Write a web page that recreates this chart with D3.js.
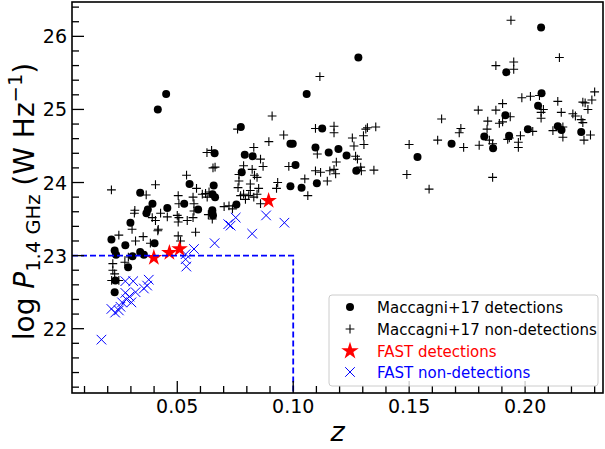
<!DOCTYPE html>
<html>
<head>
<meta charset="utf-8">
<script src="https://cdn.jsdelivr.net/npm/d3@7"></script>
<style>
  body { margin: 0; background: #fff; }
  svg { font-family: "DejaVu Sans", sans-serif; }
</style>
</head>
<body>
<div id="chart"></div>
<script>
// Maccagni+17 detections [z, log P]
var maccDet = [
    [0.0452, 25.21], [0.0416, 25.00], [0.0774, 24.76], [0.0661, 24.40], [0.0553, 23.98],
    [0.0657, 23.96], [0.0340, 23.86], [0.0663, 23.80], [0.0530, 23.71], [0.0393, 23.71],
    [0.0457, 23.65], [0.0373, 23.63], [0.0590, 23.63], [0.0651, 23.62], [0.0755, 23.70],
    [0.0778, 24.14], [0.0367, 23.58], [0.0651, 23.59], [0.0298, 23.45], [0.0216, 23.22],
    [0.0276, 23.14], [0.0230, 23.07], [0.0236, 23.01], [0.0340, 23.05], [0.0307, 22.99],
    [0.0402, 23.17], [0.0356, 23.01], [0.0288, 22.84], [0.0233, 22.66], [0.0230, 22.50],
    [0.0988, 24.53], [0.0998, 24.53], [0.1125, 24.74], [0.0791, 24.38], [0.0825, 24.36],
    [0.1096, 24.48], [0.1153, 24.41], [0.1195, 24.46], [0.1230, 24.37], [0.1010, 24.24],
    [0.1272, 24.16], [0.0988, 23.95], [0.1036, 23.93], [0.1102, 23.99], [0.1281, 25.71],
    [0.1058, 25.21], [0.2069, 26.12], [0.1919, 25.51], [0.2071, 25.22], [0.2056, 25.05],
    [0.1915, 24.92], [0.2012, 24.73], [0.1824, 24.63], [0.1931, 24.64], [0.1683, 24.53],
    [0.1862, 24.47], [0.2141, 24.77], [0.2157, 24.72], [0.2242, 24.69], [0.1536, 24.35],
    [0.0654, 23.55], [0.0652, 23.84]
];

// Maccagni+17 non-detections [z, log P]
var maccNonDet = [
    [0.0216, 23.90], [0.0406, 23.97], [0.0366, 23.83], [0.0540, 24.10], [0.0583, 23.92],
    [0.0504, 23.82], [0.0507, 23.71], [0.0568, 23.80], [0.0572, 23.71], [0.0608, 23.84],
    [0.0622, 23.85], [0.0629, 23.80], [0.0637, 23.87], [0.0628, 24.41], [0.0648, 24.44],
    [0.0654, 24.20], [0.0663, 24.21], [0.0760, 24.73], [0.0762, 23.93], [0.0766, 24.11],
    [0.0766, 24.02], [0.0773, 23.82], [0.0702, 23.67], [0.0723, 23.68], [0.0738, 23.64],
    [0.0317, 23.62], [0.0315, 23.58], [0.0428, 23.58], [0.0457, 23.53], [0.0392, 23.52],
    [0.0406, 23.48], [0.0418, 23.36], [0.0500, 23.55], [0.0507, 23.52], [0.0504, 23.46],
    [0.0543, 23.48], [0.0572, 23.61], [0.0568, 23.52], [0.0579, 23.32], [0.0634, 23.56],
    [0.0651, 23.50], [0.0248, 23.28], [0.0305, 23.36], [0.0353, 23.26], [0.0320, 23.20],
    [0.0384, 23.17], [0.0274, 22.91], [0.0222, 22.89], [0.0222, 22.80], [0.0230, 22.75],
    [0.0248, 22.66], [0.0217, 22.66], [0.0289, 22.98], [0.0504, 23.27], [0.0514, 23.20],
    [0.0416, 23.34], [0.0909, 24.91], [0.0959, 24.65], [0.0895, 24.56], [0.1096, 24.74],
    [0.1176, 24.77], [0.1176, 24.68], [0.1313, 24.73], [0.1320, 24.75], [0.1356, 24.76],
    [0.1255, 24.61], [0.1303, 24.64], [0.1305, 24.52], [0.1262, 24.50], [0.0830, 24.48],
    [0.0859, 24.32], [0.0870, 24.22], [0.1104, 24.39], [0.1186, 24.28], [0.1269, 24.36],
    [0.1277, 24.32], [0.0786, 24.23], [0.0823, 24.18], [0.0833, 24.10], [0.0844, 24.07],
    [0.0981, 24.22], [0.1096, 24.16], [0.1118, 24.14], [0.1158, 24.16], [0.1176, 24.18],
    [0.1183, 24.12], [0.1291, 24.21], [0.1294, 24.16], [0.1348, 24.17], [0.1147, 24.02],
    [0.1050, 24.05], [0.1063, 23.82], [0.0933, 24.00], [0.0928, 23.92], [0.0815, 23.98],
    [0.0851, 23.92], [0.0815, 23.89], [0.0786, 23.84], [0.0808, 23.82], [0.0844, 23.84],
    [0.0794, 23.77], [0.0830, 23.80], [0.0859, 23.71], [0.1115, 25.45], [0.1939, 26.22],
    [0.2148, 25.71], [0.1874, 25.60], [0.1951, 25.65], [0.1951, 25.55], [0.2300, 25.24],
    [0.2288, 25.13], [0.2249, 25.10], [0.2259, 25.09], [0.2271, 25.00], [0.1986, 25.16],
    [0.2023, 25.18], [0.2062, 25.19], [0.2079, 25.00], [0.2069, 24.96], [0.2069, 24.88],
    [0.2141, 25.11], [0.2156, 24.96], [0.1903, 25.08], [0.1874, 24.99], [0.1798, 24.99],
    [0.1936, 24.90], [0.1903, 24.83], [0.1889, 24.81], [0.1839, 24.84], [0.1836, 24.73],
    [0.1640, 24.87], [0.1723, 24.74], [0.1716, 24.68], [0.1623, 24.58], [0.1735, 24.48],
    [0.1802, 24.51], [0.1846, 24.58], [0.1860, 24.53], [0.1925, 24.59], [0.1932, 24.61],
    [0.1971, 24.55], [0.1980, 24.64], [0.1971, 24.48], [0.2033, 24.70], [0.2120, 24.71],
    [0.2163, 24.76], [0.2163, 24.62], [0.2206, 24.94], [0.2217, 24.91], [0.2242, 24.86],
    [0.2249, 24.82], [0.2254, 24.58], [0.2282, 24.65], [0.1500, 24.52], [0.1490, 24.11],
    [0.1586, 23.91], [0.1860, 24.07]
];

// FAST detections [z, log P]
var fastDet = [
    [0.0399, 22.97], [0.0466, 23.04], [0.0510, 23.09], [0.0894, 23.75]
];

// FAST non-detections [z, log P]
var fastNonDet = [
    [0.0173, 21.85], [0.0216, 22.27], [0.0248, 22.25], [0.0255, 22.30], [0.0262, 22.36],
    [0.0281, 22.40], [0.0294, 22.44], [0.0302, 22.36], [0.0276, 22.49], [0.0320, 22.50],
    [0.0356, 22.55], [0.0370, 22.59], [0.0377, 22.67], [0.0276, 22.65], [0.0310, 22.65],
    [0.0232, 22.22], [0.0536, 23.02], [0.0536, 22.95], [0.0539, 22.85], [0.0572, 23.09],
    [0.0661, 23.17], [0.0720, 23.43], [0.0752, 23.52], [0.0730, 23.41], [0.0823, 23.30],
    [0.0883, 23.55], [0.0962, 23.45]
];

var xTicks = [0.05, 0.10, 0.15, 0.20];
var yTicks = [22, 23, 24, 25, 26];
var legendLabels = ["Maccagni+17 detections", "Maccagni+17 non-detections", "FAST detections", "FAST non-detections"];
var cutZ = 0.10;
var cutLogP = 23;

function init() {
    var w = 605;
    var h = 449;
    var left = 72, right = 603, top = 2, bottom = 393;

    var x = d3.scaleLinear().domain([0.0046, 0.2336]).range([left, right]);
    var y = d3.scaleLinear().domain([21.12, 26.47]).range([bottom, top]);

    var svg = d3.select("#chart")
                .append("svg")
                .attr("width", w)
                .attr("height", h);

    // clip for markers
    svg.append("clipPath").attr("id", "clip")
        .append("rect")
        .attr("x", left).attr("y", top)
        .attr("width", right - left).attr("height", bottom - top);

    var plot = svg.append("g").attr("clip-path", "url(#clip)");

    // black dots
    plot.selectAll("circle.det")
        .data(maccDet)
        .enter()
        .append("circle")
        .attr("class", "det")
        .attr("cx", function(d) { return x(d[0]); })
        .attr("cy", function(d) { return y(d[1]); })
        .attr("r", 4)
        .style("fill", "black");

    // plus markers
    var ph = 4.4;
    plot.selectAll("path.nondet")
        .data(maccNonDet)
        .enter()
        .append("path")
        .attr("class", "nondet")
        .attr("d", function(d) {
            var cx = x(d[0]), cy = y(d[1]);
            return "M" + (cx - ph) + "," + cy + "H" + (cx + ph) + "M" + cx + "," + (cy - ph) + "V" + (cy + ph);
        })
        .style("stroke", "black")
        .style("stroke-width", 1.1)
        .style("fill", "none");

    // blue crosses
    var xh = 4.8;
    plot.selectAll("path.fastnon")
        .data(fastNonDet)
        .enter()
        .append("path")
        .attr("class", "fastnon")
        .attr("d", function(d) {
            var cx = x(d[0]), cy = y(d[1]);
            return "M" + (cx - xh) + "," + (cy - xh) + "L" + (cx + xh) + "," + (cy + xh) +
                   "M" + (cx - xh) + "," + (cy + xh) + "L" + (cx + xh) + "," + (cy - xh);
        })
        .style("stroke", "blue")
        .style("stroke-width", 1)
        .style("fill", "none");

    // red stars
    var star = d3.symbol().type(d3.symbolStar).size(85);
    plot.selectAll("path.fastdet")
        .data(fastDet)
        .enter()
        .append("path")
        .attr("class", "fastdet")
        .attr("d", star)
        .attr("transform", function(d) { return "translate(" + x(d[0]) + "," + y(d[1]) + ")"; })
        .style("fill", "red");

    // dashed selection box
    svg.append("path")
        .attr("d", "M" + left + "," + y(cutLogP) + "H" + x(cutZ) + "V" + bottom)
        .style("stroke", "blue")
        .style("stroke-width", 1.8)
        .style("stroke-dasharray", "6,3")
        .style("fill", "none");

    // ticks (inward, left and bottom only)
    var ax = svg.append("g").style("stroke", "black").style("stroke-width", 1.3);
    var xMinor = d3.range(1, 24).map(function(i) { return i / 100; });
    var yMinor = d3.range(106, 133).map(function(i) { return i / 5; });

    ax.selectAll("line.xm").data(xMinor).enter().append("line")
        .attr("x1", function(d) { return x(d); }).attr("x2", function(d) { return x(d); })
        .attr("y1", bottom).attr("y2", function(d) {
            return bottom - (xTicks.some(function(t) { return Math.abs(t - d) < 1e-6; }) ? 12 : 7);
        });
    ax.selectAll("line.ym").data(yMinor).enter().append("line")
        .attr("y1", function(d) { return y(d); }).attr("y2", function(d) { return y(d); })
        .attr("x1", left).attr("x2", function(d) {
            return left + (yTicks.some(function(t) { return Math.abs(t - d) < 1e-6; }) ? 12 : 7);
        });

    // frame
    svg.append("rect")
        .attr("x", left).attr("y", top)
        .attr("width", right - left).attr("height", bottom - top)
        .style("fill", "none")
        .style("stroke", "black")
        .style("stroke-width", 1.6);

    // tick labels
    svg.selectAll("text.xt").data(xTicks).enter().append("text")
        .attr("x", function(d) { return x(d); })
        .attr("y", bottom + 20)
        .attr("text-anchor", "middle")
        .style("font-size", "19px")
        .text(function(d) { return d3.format(".2f")(d); });

    svg.selectAll("text.yt").data(yTicks).enter().append("text")
        .attr("x", left - 5)
        .attr("y", function(d) { return y(d) + 7; })
        .attr("text-anchor", "end")
        .style("font-size", "19px")
        .text(function(d) { return d; });

    // axis labels
    svg.append("text")
        .attr("x", (left + right) / 2)
        .attr("y", 441)
        .attr("text-anchor", "middle")
        .style("font-size", "27px")
        .style("font-style", "italic")
        .text("z");

    var yl = svg.append("text")
        .attr("transform", "translate(34," + ((top + bottom) / 2 + 4) + ") rotate(-90)")
        .attr("text-anchor", "middle")
        .style("font-size", "28px");
    yl.append("tspan").text("log ");
    yl.append("tspan").style("font-style", "italic").text("P");
    yl.append("tspan").attr("dy", 6).style("font-size", "19.5px").text("1.4 GHz");
    yl.append("tspan").attr("dy", -6).text(" (W Hz");
    yl.append("tspan").attr("dy", -12).style("font-size", "19.5px").text("\u22121");
    yl.append("tspan").attr("dy", 12).text(")");

    // legend
    var lg = svg.append("g");
    lg.append("rect")
        .attr("x", 329).attr("y", 295)
        .attr("width", 269).attr("height", 91)
        .attr("rx", 3)
        .style("fill", "white").style("fill-opacity", 0.8)
        .style("stroke", "#cccccc").style("stroke-width", 1);

    var rowY = [307, 329, 351, 372];
    var mx = 350;
    lg.append("circle").attr("cx", mx).attr("cy", rowY[0]).attr("r", 4).style("fill", "black");
    lg.append("path")
        .attr("d", "M" + (mx - ph) + "," + rowY[1] + "H" + (mx + ph) + "M" + mx + "," + (rowY[1] - ph) + "V" + (rowY[1] + ph))
        .style("stroke", "black").style("stroke-width", 1.1);
    lg.append("path").attr("d", d3.symbol().type(d3.symbolStar).size(95)())
        .attr("transform", "translate(" + mx + "," + rowY[2] + ")")
        .style("fill", "red");
    lg.append("path")
        .attr("d", "M" + (mx - xh) + "," + (rowY[3] - xh) + "L" + (mx + xh) + "," + (rowY[3] + xh) +
                   "M" + (mx - xh) + "," + (rowY[3] + xh) + "L" + (mx + xh) + "," + (rowY[3] - xh))
        .style("stroke", "blue").style("stroke-width", 1);

    var legendColors = ["black", "black", "red", "blue"];
    lg.selectAll("text").data(legendLabels).enter().append("text")
        .attr("x", 377)
        .attr("y", function(d, i) { return rowY[i] + 5.5; })
        .style("font-size", "15px")
        .style("fill", function(d, i) { return legendColors[i]; })
        .text(function(d) { return d; });
}
window.onload = init;
</script>
</body>
</html>
